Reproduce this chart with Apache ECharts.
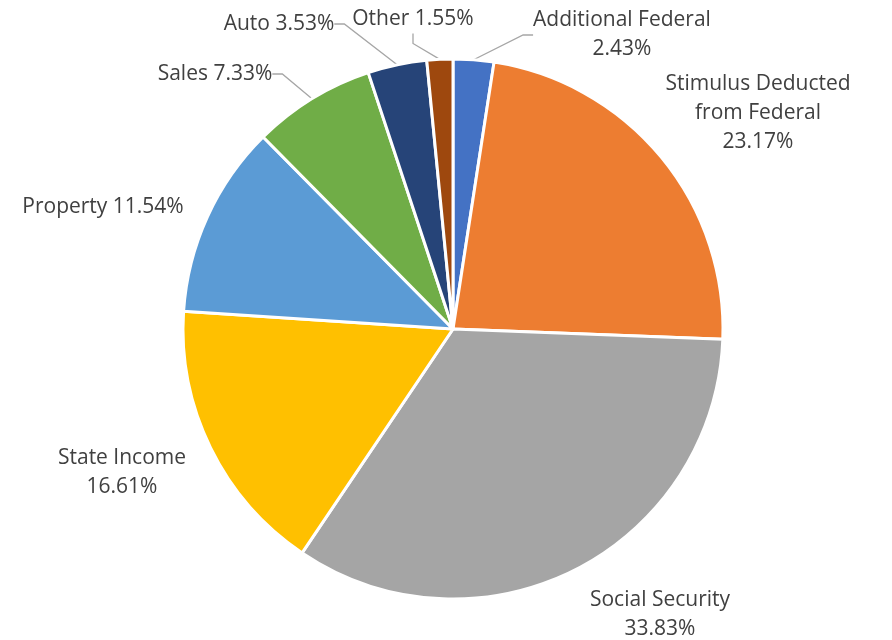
<!DOCTYPE html>
<html>
<head>
<meta charset="utf-8">
<script src="https://cdn.jsdelivr.net/npm/echarts@6/dist/echarts.min.js"></script>
<style>html,body{margin:0;padding:0;background:#fff}#c{width:892px;height:640px}</style>
</head>
<body>
<div id="c"></div>
<script>
const categories = ['Additional Federal', 'Stimulus Deducted\nfrom Federal', 'Social Security', 'State Income', 'Property', 'Sales', 'Auto', 'Other'];
const values = [2.43, 23.17, 33.83, 16.61, 11.54, 7.33, 3.53, 1.55];
const colors = ['#4472C4', '#ED7D31', '#A5A5A5', '#FFC000', '#5B9BD5', '#70AD47', '#264478', '#9E480E'];
const oneLine = [false, false, false, false, true, true, true, true];
const showLine = [true, false, false, false, false, true, true, true];
// label anchor positions (center of label text block)
const labelPos = [[622, 35], [758, 113], [660, 615], [122, 473], [103, 207], [215, 74], [279, 24], [413, 19]];

const chart = echarts.init(document.getElementById('c'), null, {renderer: 'canvas'});
chart.setOption({
  animation: false,
  series: [{
    type: 'pie',
    center: [453, 329],
    radius: 270,
    startAngle: 90,
    clockwise: true,
    data: categories.map((n, i) => ({
      name: n,
      value: values[i],
      itemStyle: {color: colors[i]},
      labelLine: {show: showLine[i]}
    })),
    itemStyle: {borderColor: '#fff', borderWidth: 3},
    label: {
      show: true,
      fontFamily: 'Open Sans',
      fontSize: 21,
      color: '#404040',
      lineHeight: 29,
      align: 'center',
      formatter: p => p.name + (oneLine[p.dataIndex] ? ' ' : '\n') + p.value.toFixed(2) + '%'
    },
    labelLine: {lineStyle: {color: '#A6A6A6', width: 1.3}, length: 15, length2: 10},
    labelLayout: function (params) {
      const p = labelPos[params.dataIndex];
      return {x: p[0], y: p[1], align: 'center', verticalAlign: 'middle'};
    }
  }]
});
</script>
</body>
</html>
